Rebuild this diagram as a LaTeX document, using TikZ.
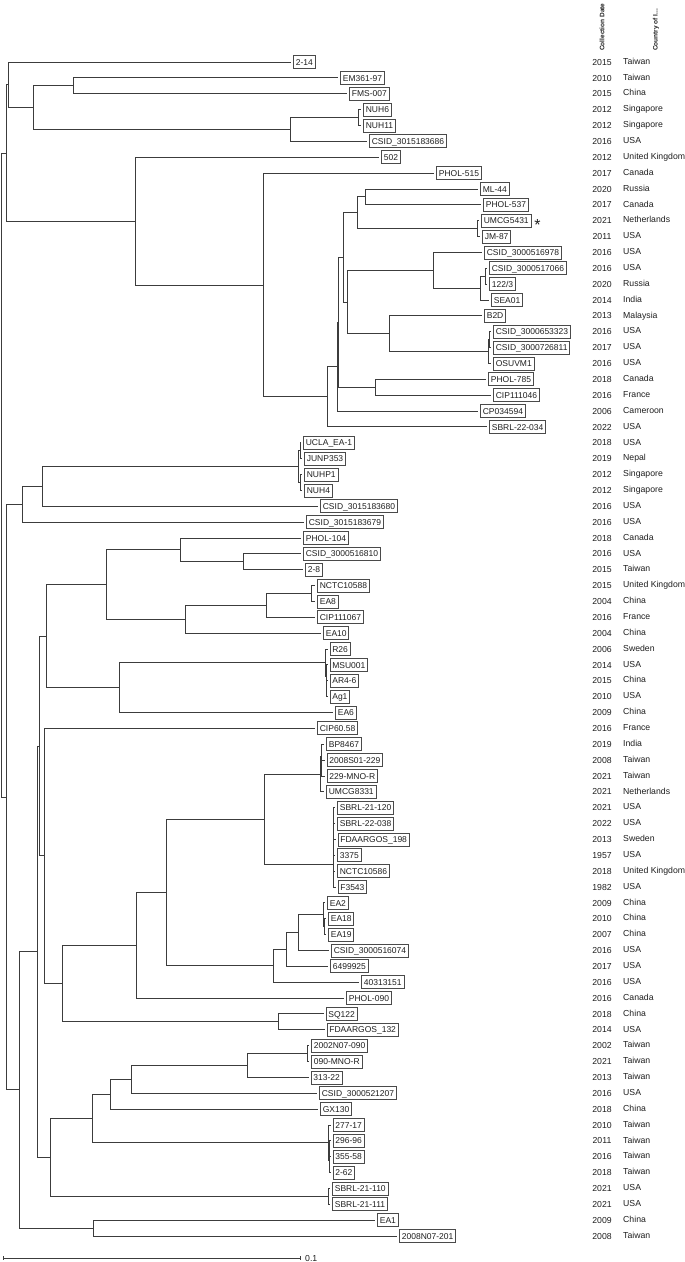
\documentclass[tikz,border=0pt]{standalone}
\usepackage{fontspec}
\setmainfont{Liberation Sans}
\definecolor{treeclr}{HTML}{3C3C3C}
\definecolor{boxclr}{HTML}{4A4A4A}
\definecolor{txtclr}{HTML}{1E1E1E}
\tikzset{
  br/.style={draw=treeclr, line width=0.85pt},
  leafbox/.style={draw=boxclr, line width=0.7pt, inner xsep=2.2pt, inner ysep=0pt,
    minimum height=13pt, text height=6.3pt, text depth=0pt,
    font=\fontsize{8.5pt}{10pt}\selectfont, text=txtclr, anchor=west},
  yr/.style={font=\fontsize{8.7pt}{10pt}\selectfont, text=txtclr, inner sep=0pt,
    text height=6.3pt, text depth=0pt},
  ctry/.style={font=\fontsize{8.7pt}{10pt}\selectfont, text=txtclr, inner sep=0pt,
    text height=6.3pt, text depth=1.8pt, anchor=west},
  hdr/.style={font=\fontsize{6.5pt}{7pt}\selectfont\bfseries, text=txtclr, inner sep=0pt,
    rotate=90, anchor=west}
}
\newcommand\mkleaf[5]{%
  \coordinate (t#1) at (#2, {62+(#1-1)*15.865});
  \node[leafbox] (L#1) at ([xshift=2.3pt]t#1) {#3};
  \node[yr] (Y#1) at (602, {62+(#1-1)*15.865}) {#4};
  \node[ctry] (C#1) at (623, {62+(#1-1)*15.865}) {#5};
}
\begin{document}
\begin{tikzpicture}[x=1pt, y=-1pt]
\useasboundingbox (0,0) rectangle (685,1262);
% headers
\node[hdr] (h1) at (602,51) {Collection Date};
\node[hdr] (h2) at (656,51) {Country of I...};
% leaves
\mkleaf{1}{291}{2-14}{2015}{Taiwan}
\mkleaf{2}{338}{EM361-97}{2010}{Taiwan}
\mkleaf{3}{347}{FMS-007}{2015}{China}
\mkleaf{4}{361}{NUH6}{2012}{Singapore}
\mkleaf{5}{361}{NUH11}{2012}{Singapore}
\mkleaf{6}{367}{CSID\_3015183686}{2016}{USA}
\mkleaf{7}{379}{502}{2012}{United Kingdom}
\mkleaf{8}{434}{PHOL-515}{2017}{Canada}
\mkleaf{9}{478}{ML-44}{2020}{Russia}
\mkleaf{10}{481}{PHOL-537}{2017}{Canada}
\mkleaf{11}{479}{UMCG5431}{2021}{Netherlands}
\mkleaf{12}{480}{JM-87}{2011}{USA}
\mkleaf{13}{482}{CSID\_3000516978}{2016}{USA}
\mkleaf{14}{487}{CSID\_3000517066}{2016}{USA}
\mkleaf{15}{487}{122/3}{2020}{Russia}
\mkleaf{16}{489}{SEA01}{2014}{India}
\mkleaf{17}{482}{B2D}{2013}{Malaysia}
\mkleaf{18}{491}{CSID\_3000653323}{2016}{USA}
\mkleaf{19}{491}{CSID\_3000726811}{2017}{USA}
\mkleaf{20}{491}{OSUVM1}{2016}{USA}
\mkleaf{21}{486}{PHOL-785}{2018}{Canada}
\mkleaf{22}{491}{CIP111046}{2016}{France}
\mkleaf{23}{478}{CP034594}{2006}{Cameroon}
\mkleaf{24}{487}{SBRL-22-034}{2022}{USA}
\mkleaf{25}{301}{UCLA\_EA-1}{2018}{USA}
\mkleaf{26}{302}{JUNP353}{2019}{Nepal}
\mkleaf{27}{302}{NUHP1}{2012}{Singapore}
\mkleaf{28}{302}{NUH4}{2012}{Singapore}
\mkleaf{29}{318}{CSID\_3015183680}{2016}{USA}
\mkleaf{30}{304}{CSID\_3015183679}{2016}{USA}
\mkleaf{31}{301}{PHOL-104}{2018}{Canada}
\mkleaf{32}{301}{CSID\_3000516810}{2016}{USA}
\mkleaf{33}{303}{2-8}{2015}{Taiwan}
\mkleaf{34}{315}{NCTC10588}{2015}{United Kingdom}
\mkleaf{35}{315}{EA8}{2004}{China}
\mkleaf{36}{315}{CIP111067}{2016}{France}
\mkleaf{37}{321}{EA10}{2004}{China}
\mkleaf{38}{327.5}{R26}{2006}{Sweden}
\mkleaf{39}{327.5}{MSU001}{2014}{USA}
\mkleaf{40}{327.5}{AR4-6}{2015}{China}
\mkleaf{41}{327.5}{Ag1}{2010}{USA}
\mkleaf{42}{333}{EA6}{2009}{China}
\mkleaf{43}{315}{CIP60.58}{2016}{France}
\mkleaf{44}{324}{BP8467}{2019}{India}
\mkleaf{45}{324.5}{2008S01-229}{2008}{Taiwan}
\mkleaf{46}{324.5}{229-MNO-R}{2021}{Taiwan}
\mkleaf{47}{324}{UMCG8331}{2021}{Netherlands}
\mkleaf{48}{335}{SBRL-21-120}{2021}{USA}
\mkleaf{49}{335}{SBRL-22-038}{2022}{USA}
\mkleaf{50}{335.5}{FDAARGOS\_198}{2013}{Sweden}
\mkleaf{51}{335}{3375}{1957}{USA}
\mkleaf{52}{335}{NCTC10586}{2018}{United Kingdom}
\mkleaf{53}{335.5}{F3543}{1982}{USA}
\mkleaf{54}{325}{EA2}{2009}{China}
\mkleaf{55}{326}{EA18}{2010}{China}
\mkleaf{56}{326}{EA19}{2007}{China}
\mkleaf{57}{329}{CSID\_3000516074}{2016}{USA}
\mkleaf{58}{328}{6499925}{2017}{USA}
\mkleaf{59}{359}{40313151}{2016}{USA}
\mkleaf{60}{344}{PHOL-090}{2016}{Canada}
\mkleaf{61}{323.5}{SQ122}{2018}{China}
\mkleaf{62}{324.5}{FDAARGOS\_132}{2014}{USA}
\mkleaf{63}{309}{2002N07-090}{2002}{Taiwan}
\mkleaf{64}{309}{090-MNO-R}{2021}{Taiwan}
\mkleaf{65}{308.5}{313-22}{2013}{Taiwan}
\mkleaf{66}{317}{CSID\_3000521207}{2016}{USA}
\mkleaf{67}{318}{GX130}{2018}{China}
\mkleaf{68}{330.5}{277-17}{2010}{Taiwan}
\mkleaf{69}{330.5}{296-96}{2011}{Taiwan}
\mkleaf{70}{330.5}{355-58}{2016}{Taiwan}
\mkleaf{71}{330.5}{2-62}{2018}{Taiwan}
\mkleaf{72}{330}{SBRL-21-110}{2021}{USA}
\mkleaf{73}{330}{SBRL-21-111}{2021}{USA}
\mkleaf{74}{375}{EA1}{2009}{China}
\mkleaf{75}{397}{2008N07-201}{2008}{Taiwan}
% asterisk
\node[font=\fontsize{16pt}{17pt}\selectfont, text=txtclr, inner sep=0pt, anchor=base west] (ast) at ([xshift=3pt, yshift=-10.3pt]L11.east) {*};
% internal nodes
\coordinate (root) at (1,475);
\coordinate (top) at (6.5,152.95);
\coordinate (a5) at (8,84.8);
\coordinate (a4) at (33,107.6);
\coordinate (a3) at (73,85.8);
\coordinate (a2) at (290,129.4);
\coordinate (a1) at (358,117.55);
\coordinate (b17) at (135,221.1);
\coordinate (b16) at (263,284.95);
\coordinate (b15) at (327,396.8);
\coordinate (b14) at (337,366.65);
\coordinate (b13) at (338.5,322.3);
\coordinate (b12) at (375,387.25);
\coordinate (b11) at (343,257.3);
\coordinate (b3) at (357,212.7);
\coordinate (b1) at (365,196.85);
\coordinate (b2) at (477,228.6);
\coordinate (b10) at (347,301.95);
\coordinate (b6) at (433,270.25);
\coordinate (b5) at (480,288.1);
\coordinate (b4) at (485,276.15);
\coordinate (b9) at (389,333.65);
\coordinate (b8) at (488,351.5);
\coordinate (b7) at (489,339.65);
\coordinate (mid) at (6,797.1);
\coordinate (c5) at (22,504.25);
\coordinate (c4) at (42,486.4);
\coordinate (c3) at (298,466.6);
\coordinate (c1) at (300,450.7);
\coordinate (c2) at (300,482.45);
\coordinate (h2n) at (19,1089.9);
\coordinate (h1n) at (93,1228.1);
\coordinate (g9) at (37,951.7);
\coordinate (f10) at (39,746.0);
\coordinate (d9) at (46,636.15);
\coordinate (d6) at (106,584.6);
\coordinate (d2) at (180,549.9);
\coordinate (d1) at (243,561.75);
\coordinate (d5) at (185,619.25);
\coordinate (d4) at (266,605.4);
\coordinate (d3) at (311,593.45);
\coordinate (d8) at (119,687.7);
\coordinate (d7) at (325,662.9);
\coordinate (d7b) at (326,676.8);
\coordinate (d7a) at (326.5,688.65);
\coordinate (f9) at (44,855.9);
\coordinate (f8) at (62,983.5);
\coordinate (f6) at (136,945.2);
\coordinate (f5) at (166,892.4);
\coordinate (e3) at (264,819);
\coordinate (e1) at (320,773.95);
\coordinate (e1b) at (321,756.1);
\coordinate (e1a) at (321.8,768);
\coordinate (e2) at (333,864);
\coordinate (f4) at (273,965.8);
\coordinate (f3) at (286,949.4);
\coordinate (f2) at (298,932.55);
\coordinate (f1) at (323,914.7);
\coordinate (f1a) at (324,926.65);
\coordinate (f7) at (278,1021.85);
\coordinate (g8) at (50,1157.4);
\coordinate (g6) at (92,1118.5);
\coordinate (g4) at (110,1094.2);
\coordinate (g3) at (131,1079.35);
\coordinate (g2) at (247,1065.5);
\coordinate (g1) at (307,1053.55);
\coordinate (g5) at (328,1142.85);
\coordinate (g5b) at (329,1160.7);
\coordinate (g5a) at (329.5,1148.75);
\coordinate (g7) at (328,1196.35);
% branches
\foreach \p/\c in {root/top, root/mid,
  top/a5, top/b17, a5/t1, a5/a4, a4/a3, a4/a2, a3/t2, a3/t3, a2/a1, a2/t6, a1/t4, a1/t5,
  b17/t7, b17/b16, b16/t8, b16/b15, b15/b14, b15/t24, b14/b13, b14/t23, b13/b11, b13/b12,
  b12/t21, b12/t22, b11/b3, b11/b10, b3/b1, b3/b2, b1/t9, b1/t10, b2/t11, b2/t12,
  b10/b6, b10/b9, b6/t13, b6/b5, b5/b4, b5/t16, b4/t14, b4/t15, b9/t17, b9/b8, b8/b7, b8/t20,
  b7/t18, b7/t19,
  mid/c5, mid/h2n, c5/c4, c5/t30, c4/c3, c4/t29, c3/c1, c3/c2, c1/t25, c1/t26, c2/t27, c2/t28,
  h2n/g9, h2n/h1n, h1n/t74, h1n/t75, g9/f10, g9/g8, f10/d9, f10/f9,
  d9/d6, d9/d8, d6/d2, d6/d5, d2/t31, d2/d1, d1/t32, d1/t33, d5/d4, d5/t37, d4/d3, d4/t36,
  d3/t34, d3/t35, d8/d7, d8/t42, d7/t38, d7/d7b, d7b/t39, d7b/d7a, d7a/t40, d7a/t41,
  f9/t43, f9/f8, f8/f6, f8/f7, f6/f5, f6/t60, f5/e3, f5/f4, e3/e1, e3/e2,
  e1/e1b, e1/t47, e1b/t44, e1b/e1a, e1a/t45, e1a/t46,
  e2/t48, e2/t49, e2/t50, e2/t51, e2/t52, e2/t53,
  f4/f3, f4/t59, f3/f2, f3/t58, f2/f1, f2/t57, f1/t54, f1/f1a, f1a/t55, f1a/t56,
  f7/t61, f7/t62,
  g8/g6, g8/g7, g6/g4, g6/g5, g4/g3, g4/t67, g3/g2, g3/t66, g2/g1, g2/t65, g1/t63, g1/t64,
  g5/t68, g5/g5b, g5b/g5a, g5b/t71, g5a/t69, g5a/t70, g7/t72, g7/t73}
  \draw[br] (\p) |- (\c);
% scale bar
\coordinate (sb1) at (3,1258);
\coordinate (sb2) at (300,1258);
\draw[br, line width=0.6pt] (sb1) -- (sb2);
\draw[br, line width=0.6pt] ([yshift=2pt]sb1) -- ([yshift=-2pt]sb1);
\draw[br, line width=0.6pt] ([yshift=2pt]sb2) -- ([yshift=-2pt]sb2);
\node[yr, anchor=west] (sbl) at ([xshift=5pt]sb2) {0.1};
\end{tikzpicture}
\end{document}
